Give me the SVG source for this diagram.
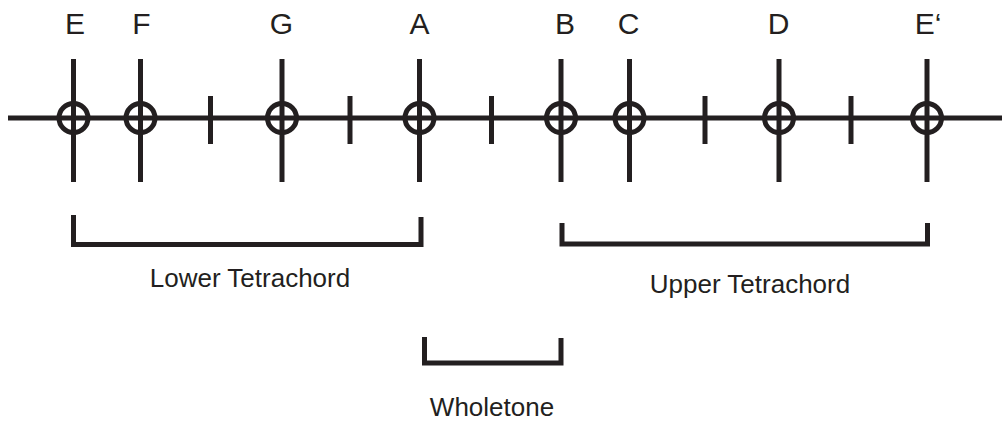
<svg xmlns="http://www.w3.org/2000/svg" width="1002" height="421" viewBox="0 0 1002 421">
<style>
.ln{stroke:#231f20;stroke-width:5;fill:none;stroke-linecap:butt;stroke-linejoin:miter}
.lbl{font-family:"Liberation Sans",Arial,sans-serif;font-size:30px;fill:#231f20;text-anchor:middle}
.cap{font-family:"Liberation Sans",Arial,sans-serif;font-size:26px;fill:#231f20;text-anchor:middle}
</style>
<defs>
<g id="note">
<line class="ln" x1="0" y1="-59" x2="0" y2="64"/>
<circle class="ln" cx="0" cy="0" r="14.5"/>
</g>
<line id="tick" class="ln" x1="0" y1="-22" x2="0" y2="26"/>
</defs>
<g id="connectors">
<line class="ln" x1="8" y1="118" x2="1002" y2="118"/>
<use href="#tick" x="210.5" y="118"/>
<use href="#tick" x="350" y="118"/>
<use href="#tick" x="491.5" y="118"/>
<use href="#tick" x="705" y="118"/>
<use href="#tick" x="851" y="118"/>
</g>
<g id="node-E"><use href="#note" x="73.5" y="118"/><text class="lbl" x="75" y="33.5">E</text></g>
<g id="node-F"><use href="#note" x="140.5" y="118"/><text class="lbl" x="141.5" y="33.5">F</text></g>
<g id="node-G"><use href="#note" x="282" y="118"/><text class="lbl" x="281.5" y="33.5">G</text></g>
<g id="node-A"><use href="#note" x="419.5" y="118"/><text class="lbl" x="419.5" y="33.5">A</text></g>
<g id="node-B"><use href="#note" x="561" y="118"/><text class="lbl" x="565" y="33.5">B</text></g>
<g id="node-C"><use href="#note" x="629.5" y="118"/><text class="lbl" x="628.5" y="33.5">C</text></g>
<g id="node-D"><use href="#note" x="779" y="118"/><text class="lbl" x="778.5" y="33.5">D</text></g>
<g id="node-E2"><use href="#note" x="927" y="118"/><text class="lbl" x="928" y="33.5">E‘</text></g>
<g id="lower-tetrachord">
<polyline class="ln" points="73.5,215 73.5,244.5 421,244.5 421,217"/>
<text class="cap" x="250" y="287">Lower Tetrachord</text>
</g>
<g id="upper-tetrachord">
<polyline class="ln" points="562,223 562,244 927.5,244 927.5,223"/>
<text class="cap" x="750" y="293">Upper Tetrachord</text>
</g>
<g id="wholetone">
<polyline class="ln" points="424.5,337 424.5,363 561,363 561,338"/>
<text class="cap" x="492" y="416">Wholetone</text>
</g>
</svg>
